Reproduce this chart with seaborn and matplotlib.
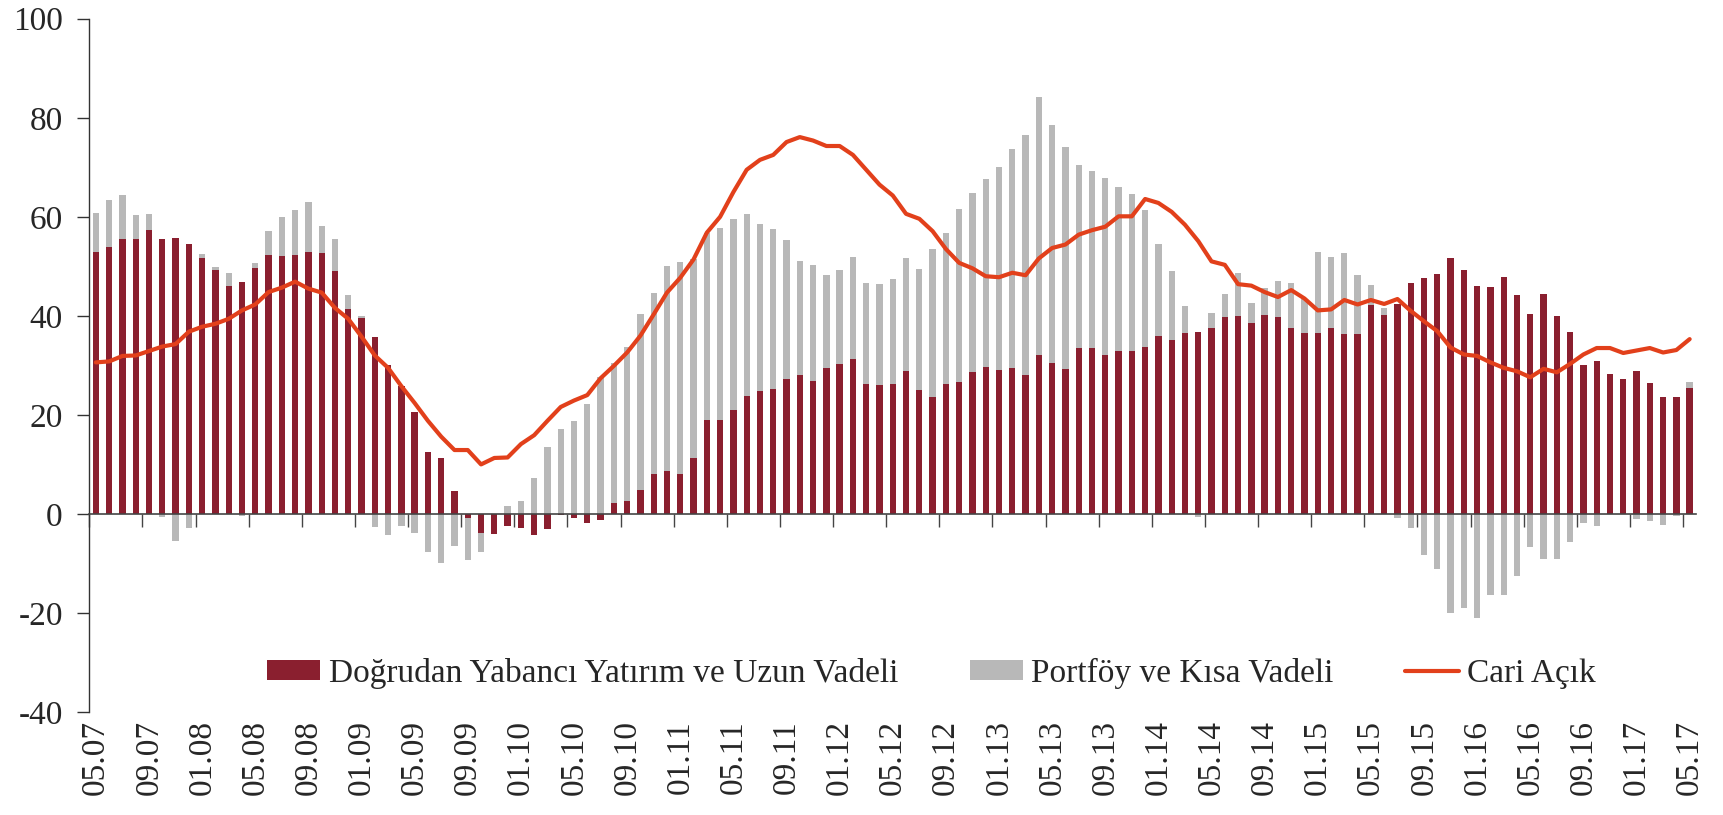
import matplotlib

matplotlib.use("Agg")
import matplotlib.pyplot as plt
import numpy as np
import seaborn as sns
from matplotlib.lines import Line2D
from matplotlib.patches import Patch

# monthly data, 05.2007 - 05.2017 (bn USD, 12-month cumulative)
fdi_long = [
    52.9, 53.9, 55.5, 55.5, 57.3, 55.6, 55.7, 54.5, 51.7, 49.2,
    46.1, 46.8, 49.6, 52.3, 52.0, 52.3, 52.8, 52.7, 49.1, 41.4,
    39.6, 35.7, 30.0, 25.9, 20.5, 12.5, 11.2, 4.7, -0.8, -3.9,
    -4.0, -2.4, -2.8, -4.2, -3.1, -0.3, -0.9, -1.8, -1.2, 2.2,
    2.7, 4.9, 8.0, 8.7, 8.0, 11.2, 19.0, 19.0, 21.0, 23.8,
    24.9, 25.3, 27.2, 28.0, 26.8, 29.5, 30.3, 31.3, 26.2, 26.0,
    26.2, 28.8, 25.0, 23.6, 26.2, 26.6, 28.6, 29.6, 29.0, 29.5,
    28.0, 32.0, 30.4, 29.2, 33.6, 33.6, 32.0, 33.0, 32.8, 33.8,
    35.9, 35.1, 36.6, 36.8, 37.6, 39.7, 39.9, 38.5, 40.2, 39.7,
    37.6, 36.6, 36.6, 37.5, 36.3, 36.3, 42.2, 40.1, 42.3, 46.6,
    47.7, 48.5, 51.6, 49.2, 46.0, 45.8, 47.8, 44.2, 40.3, 44.5,
    39.9, 36.7, 30.1, 30.8, 28.3, 27.2, 28.9, 26.5, 23.7, 23.6,
    25.5,
]
portfolio_short = [
    7.8, 9.5, 8.9, 4.9, 3.2, -0.6, -5.4, -2.9, 0.7, 0.7,
    2.6, -0.4, 1.1, 4.8, 7.9, 9.0, 10.2, 5.4, 6.4, 2.8,
    0.3, -2.7, -4.2, -2.5, -3.9, -7.6, -10.0, -6.5, -8.6, -3.7,
    0.0, 1.6, 2.7, 7.2, 13.5, 17.2, 18.8, 22.2, 27.7, 28.2,
    31.1, 35.4, 36.7, 41.3, 42.9, 40.3, 37.8, 38.8, 38.6, 36.8,
    33.7, 32.2, 28.2, 23.0, 23.5, 18.8, 18.9, 20.5, 20.5, 20.5,
    21.3, 22.9, 24.5, 29.9, 30.5, 35.0, 36.3, 38.1, 41.0, 44.1,
    48.6, 52.2, 48.2, 44.9, 36.8, 35.7, 35.8, 33.1, 31.9, 27.5,
    18.6, 13.9, 5.4, -0.6, 2.9, 4.7, 8.8, 4.0, 5.5, 7.4,
    9.1, 6.8, 16.3, 14.3, 16.4, 11.9, 4.0, 1.5, -0.9, -2.9,
    -8.3, -11.2, -20.1, -18.9, -21.1, -16.4, -16.3, -12.5, -6.6, -9.2,
    -9.1, -5.6, -1.8, -2.4, 0.0, 0.0, -1.0, -1.4, -2.2, -0.5,
    1.2,
]
current_deficit = [
    30.6, 30.8, 31.9, 32.0, 32.9, 33.8, 34.3, 36.8, 37.8, 38.4,
    39.4, 41.1, 42.3, 44.8, 45.7, 46.9, 45.5, 44.7, 41.6, 39.4,
    35.8, 32.0, 29.5, 25.8, 22.4, 18.8, 15.6, 12.9, 12.9, 10.0,
    11.3, 11.4, 14.1, 15.9, 18.8, 21.6, 22.9, 24.0, 27.4, 29.9,
    32.6, 36.0, 40.3, 44.7, 47.7, 51.4, 56.8, 60.0, 65.0, 69.5,
    71.5, 72.5, 75.1, 76.1, 75.4, 74.3, 74.3, 72.5, 69.5, 66.5,
    64.3, 60.6, 59.6, 57.1, 53.5, 50.7, 49.6, 48.0, 47.8, 48.7,
    48.2, 51.6, 53.7, 54.4, 56.4, 57.3, 58.0, 60.1, 60.1, 63.6,
    62.8, 61.0, 58.4, 55.1, 51.0, 50.3, 46.4, 46.1, 44.8, 43.8,
    45.2, 43.5, 41.1, 41.3, 43.2, 42.3, 43.2, 42.4, 43.4, 41.0,
    38.9, 36.9, 33.6, 32.2, 31.9, 30.6, 29.5, 28.8, 27.6, 29.3,
    28.6, 30.3, 32.2, 33.5, 33.5, 32.5, 33.0, 33.5, 32.6, 33.1,
    35.3,
]
tick_labels = [
    "05.07", "09.07", "01.08", "05.08", "09.08", "01.09", "05.09", "09.09",
    "01.10", "05.10", "09.10", "01.11", "05.11", "09.11", "01.12", "05.12",
    "09.12", "01.13", "05.13", "09.13", "01.14", "05.14", "09.14", "01.15",
    "05.15", "09.15", "01.16", "05.16", "09.16", "01.17", "05.17",
]
series_names = ["Doğrudan Yabancı Yatırım ve Uzun Vadeli", "Portföy ve Kısa Vadeli", "Cari Açık"]

RED = "#8A1F2F"
GRAY = "#B8B8B8"
LINE = "#E2401B"

sns.set_theme(style="white")
plt.rcParams["font.family"] = ["Liberation Serif", "DejaVu Serif"]
plt.rcParams["axes.unicode_minus"] = False

fdi = np.array(fdi_long)
pst = np.array(portfolio_short)
cad = np.array(current_deficit)
x = np.arange(len(fdi))

# excel-style stacking: positives pile up, negatives pile down
gray_bottom = np.where(pst >= 0, np.maximum(fdi, 0), np.minimum(fdi, 0))

fig = plt.figure(figsize=(17.23, 8.15), dpi=100)
ax = fig.add_axes([0.0518, 0.1264, 0.9327, 0.8506])

ax.bar(x, fdi, width=0.476, color=RED, linewidth=0)
ax.bar(x, pst, bottom=gray_bottom, width=0.476, color=GRAY, linewidth=0)
sns.lineplot(x=x, y=cad, ax=ax, color=LINE, linewidth=3.0, legend=False)

ax.set_xlim(-0.5, 120.5)
ax.set_ylim(-40, 100)
ax.set_yticks(np.arange(-40, 101, 20))
ax.tick_params(axis="y", labelsize=24, length=9, width=1, direction="out",
               color="#333333", pad=10, left=True)

for side in ["top", "right"]:
    ax.spines[side].set_visible(False)
ax.spines["left"].set_color("#333333")
ax.spines["left"].set_linewidth(1)
ax.spines["bottom"].set_position(("data", 0))
ax.spines["bottom"].set_color("#444444")
ax.spines["bottom"].set_linewidth(1.2)

# tick marks on the zero line, between categories
ax.set_xticks(np.arange(-0.5, 121, 4))
ax.tick_params(axis="x", length=9, width=1, direction="out", color="#444444",
               labelbottom=False, bottom=True)

# date labels at the bottom of the plot
sec = ax.secondary_xaxis("bottom")
sec.set_xticks(np.arange(0, 121, 4), labels=tick_labels, rotation=90)
sec.tick_params(length=0, pad=6, labelsize=24)
sec.spines["bottom"].set_visible(False)

handles = [
    Patch(facecolor=RED, edgecolor="none"),
    Patch(facecolor=GRAY, edgecolor="none"),
    Line2D([0], [0], color=LINE, linewidth=3),
]
ax.legend(handles, series_names, loc="center", bbox_to_anchor=(0.524, 0.056),
          ncol=3, frameon=False, fontsize=24, handlelength=1.6, handleheight=0.55,
          handletextpad=0.25, columnspacing=2.15)

fig.savefig("out.png", dpi=100)
